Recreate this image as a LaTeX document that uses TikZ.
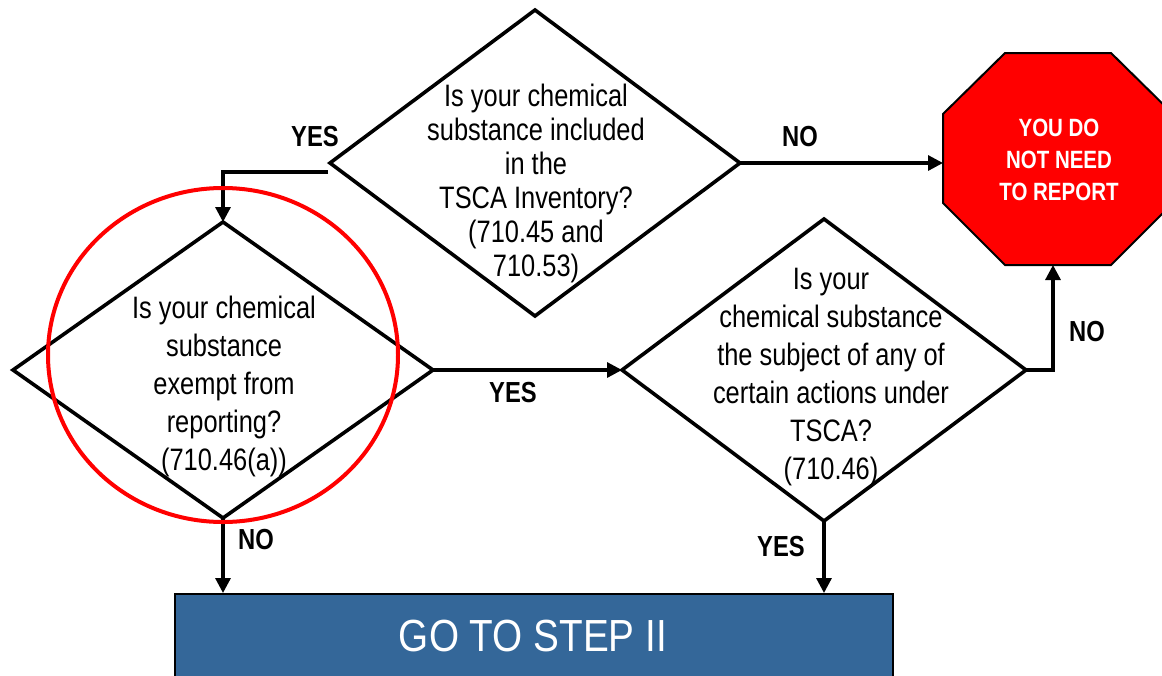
\documentclass[tikz,border=0pt]{standalone}
\usepackage{fontspec}
\setmainfont{Liberation Sans}[FakeStretch=0.82]
\newfontfamily\stepfont{Liberation Sans}[FakeStretch=0.86]
\usetikzlibrary{shapes.geometric,arrows.meta}
\definecolor{stopred}{RGB}{255,0,0}
\definecolor{stepblue}{RGB}{52,103,153}
\begin{document}
\begin{tikzpicture}[x=1pt,y=-1pt,
  decision/.style={diamond, draw=black, line width=3.6pt, inner sep=0pt, outer sep=0pt},
  qtext/.style={align=center, inner sep=0pt, font=\fontsize{31}{38}\selectfont},
  flow/.style={line width=3.2pt, -{Triangle[length=15pt,width=15pt]}},
  answer/.style={inner sep=0pt, font=\bfseries\fontsize{29}{29}\selectfont},
  stoptext/.style={align=center, inner sep=0pt, text=white, font=\bfseries\fontsize{25}{32}\selectfont},
]
\useasboundingbox (0,0) rectangle (1162,675);
\clip (0,0) rectangle (1162,675);

% decision diamonds
\node[decision, minimum width=410pt, minimum height=306pt] (inv) at (535,163) {};
\node[decision, minimum width=420pt, minimum height=296pt] (exempt) at (223,370) {};
\node[decision, minimum width=404pt, minimum height=302pt] (action) at (824,370) {};

\node[qtext, font=\fontsize{31}{34}\selectfont] (invq) at (536,183)
  {Is your chemical\\substance included\\in the\\TSCA Inventory?\\(710.45 and\\710.53)};
\node[qtext] (exemptq) at (224,386)
  {Is your chemical\\substance\\exempt from\\reporting?\\(710.46(a))};
\node[qtext] (actionq) at (831,377)
  {Is your\\chemical substance\\the subject of any of\\certain actions under\\TSCA?\\(710.46)};

% stop sign
\fill[stopred] (1005,53) -- (1111,53) -- (1173,114) -- (1173,203) -- (1111,265)
  -- (1005,265) -- (943,203) -- (943,114) -- cycle;
\draw[line width=2pt] (1005,53) -- (1111,53) -- (1173,114) -- (1173,203) -- (1111,265)
  -- (1005,265) -- (943,203) -- (943,114) -- cycle;
\coordinate (stopW) at (943,163);
\coordinate (stopS) at (1053,265);
\node[stoptext] (stop) at (1059,160) {YOU DO\\NOT NEED\\TO REPORT};

% next step box
\node[draw=black, line width=2pt, fill=stepblue, minimum width=718pt, minimum height=130pt,
  inner sep=0pt, anchor=north west] (step2) at (174,593) {};
\node[inner sep=0pt, text=white, font=\stepfont\fontsize{45}{45}\selectfont] (step2label)
  at (533,636) {GO TO STEP II};

% connectors
\coordinate (invYes) at (328,172);
\draw[flow] (invYes) -| (exempt.north);
\draw[flow] (inv.east) -- (stopW);
\draw[flow] (exempt.east) -- (action.west);
\draw[flow] (action.east) -| (stopS);
\draw[flow] (exempt.south) -- (exempt.south |- step2.north);
\draw[flow] (action.south) -- (action.south |- step2.north);

% answers
\node[answer] (a1) at (315,137) {YES};
\node[answer] (a2) at (800,137) {NO};
\node[answer] (a3) at (513,393) {YES};
\node[answer] (a4) at (1087,332) {NO};
\node[answer] (a5) at (256,540) {NO};
\node[answer] (a6) at (781,547) {YES};

% highlight ring
\node[draw=stopred, ellipse, line width=4pt, inner sep=0pt, minimum width=350pt,
  minimum height=334pt] (ring) at (223,355) {};
\end{tikzpicture}
\end{document}
